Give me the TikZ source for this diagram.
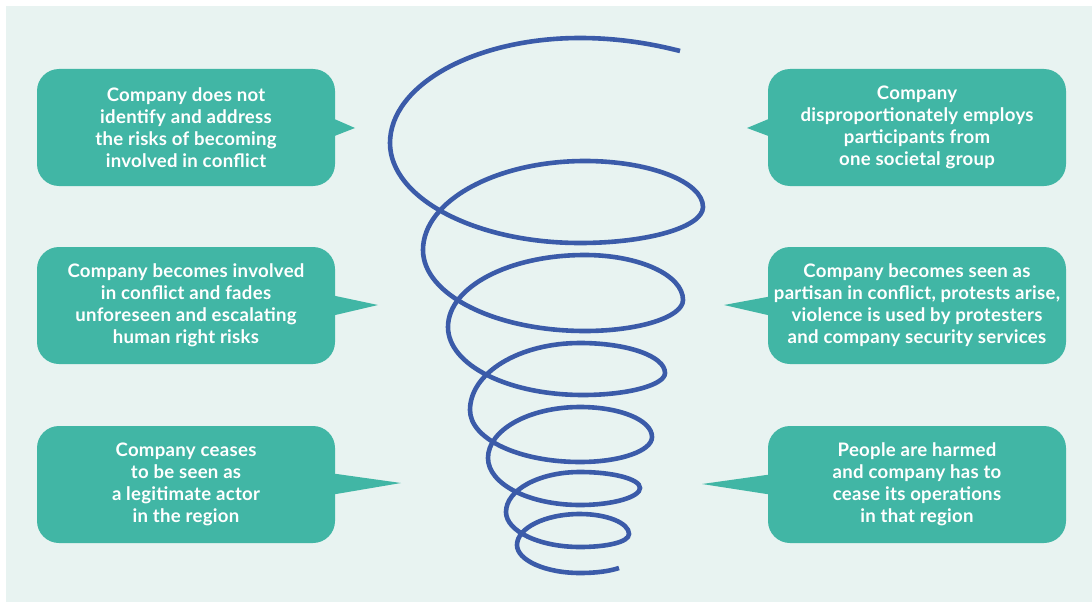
\documentclass[tikz,border=0pt]{standalone}
\usepackage{fontspec}
\setmainfont{Lato}[LetterSpace=1.5]
\definecolor{bgmint}{HTML}{E8F3F1}
\definecolor{boxteal}{HTML}{41B6A5}
\definecolor{spiralblue}{HTML}{3B5BA9}
\begin{document}
\begin{tikzpicture}[x=1pt,y=-1pt,
  callbox/.style={fill=boxteal, rounded corners=22pt, minimum width=298pt, minimum height=117pt,
    align=center, text=white, inner sep=0pt, font=\fontsize{18.6}{22}\selectfont\bfseries},
  pointer/.style={fill=boxteal},
  spiral/.style={draw=spiralblue, line width=4.6pt, line cap=butt}]
\useasboundingbox (0,0) rectangle (1092,602);
\fill[white] (0,0) rectangle (1092,602);
\fill[bgmint] (6,6) rectangle (1092,602);

% pointer tips
\coordinate (t1) at (355,128);
\coordinate (t2) at (378,305);
\coordinate (t3) at (401,483);
\coordinate (t4) at (747,128);
\coordinate (t5) at (724,305);
\coordinate (t6) at (702,484);

\node[callbox] (b1) at (186,127.5) {Company does not\\identify and address\\the risks of becoming\\involved in conflict};
\node[callbox] (b2) at (186,305.5) {Company becomes involved\\in conflict and fades\\unforeseen and escalating\\human right risks};
\node[callbox] (b3) at (186,484.5) {Company ceases\\to be seen as\\a legitimate actor\\in the region};
\node[callbox] (b4) at (917,127.5) {Company\\disproportionately employs\\participants from\\one societal group};
\node[callbox] (b5) at (917,305.5) {Company becomes seen as\\partisan in conflict, protests arise,\\violence is used by protesters\\and company security services};
\node[callbox] (b6) at (917,484.5) {People are harmed\\and company has to\\cease its operations\\in that region};

\fill[pointer] ([xshift=-2pt,yshift=9pt]b1.east) -- (t1) -- ([xshift=-2pt,yshift=-9pt]b1.east) -- cycle;
\fill[pointer] ([xshift=-2pt,yshift=10pt]b2.east) -- (t2) -- ([xshift=-2pt,yshift=-10pt]b2.east) -- cycle;
\fill[pointer] ([xshift=-2pt,yshift=11pt]b3.east) -- (t3) -- ([xshift=-2pt,yshift=-10pt]b3.east) -- cycle;
\fill[pointer] ([xshift=2pt,yshift=9pt]b4.west) -- (t4) -- ([xshift=2pt,yshift=-9pt]b4.west) -- cycle;
\fill[pointer] ([xshift=2pt,yshift=9pt]b5.west) -- (t5) -- ([xshift=2pt,yshift=-10pt]b5.west) -- cycle;
\fill[pointer] ([xshift=2pt,yshift=10pt]b6.west) -- (t6) -- ([xshift=2pt,yshift=-10pt]b6.west) -- cycle;

% spiral
\draw[spiral] (680,51) .. controls (645,42) and (612,38) .. (580,38)
  .. controls (475,38) and (390,85) .. (390,143)
  .. controls (390,198) and (475,243) .. (580,243)
  .. controls (648,243) and (703,227) .. (703,207)
  .. controls (703,182) and (650,161) .. (585,161)
  .. controls (496,161) and (423,201) .. (423,250)
  .. controls (423,295) and (496,331) .. (585,331)
  .. controls (639,331) and (683,317) .. (683,300)
  .. controls (683,275) and (639,255) .. (585,255)
  .. controls (509,255) and (448,287) .. (448,327)
  .. controls (448,365) and (508,395) .. (583,395)
  .. controls (628,395) and (665,385) .. (665,373)
  .. controls (665,356) and (627,343) .. (580,343)
  .. controls (519,343) and (470,373) .. (470,410)
  .. controls (470,439) and (519,462) .. (580,462)
  .. controls (620,462) and (652,451) .. (652,437)
  .. controls (652,420) and (620,407) .. (580,407)
  .. controls (529,407) and (488,430) .. (488,458)
  .. controls (488,484) and (529,505) .. (580,505)
  .. controls (613,505) and (640,497) .. (640,488)
  .. controls (640,479) and (613,472) .. (580,472)
  .. controls (539,472) and (506,490) .. (506,512)
  .. controls (506,531) and (539,547) .. (580,547)
  .. controls (607,547) and (629,542) .. (629,534)
  .. controls (629,523) and (607,514) .. (580,514)
  .. controls (545,514) and (517,528) .. (517,545)
  .. controls (517,560) and (545,573) .. (580,573)
  .. controls (597,573) and (610,571) .. (619,568);
\end{tikzpicture}
\end{document}
